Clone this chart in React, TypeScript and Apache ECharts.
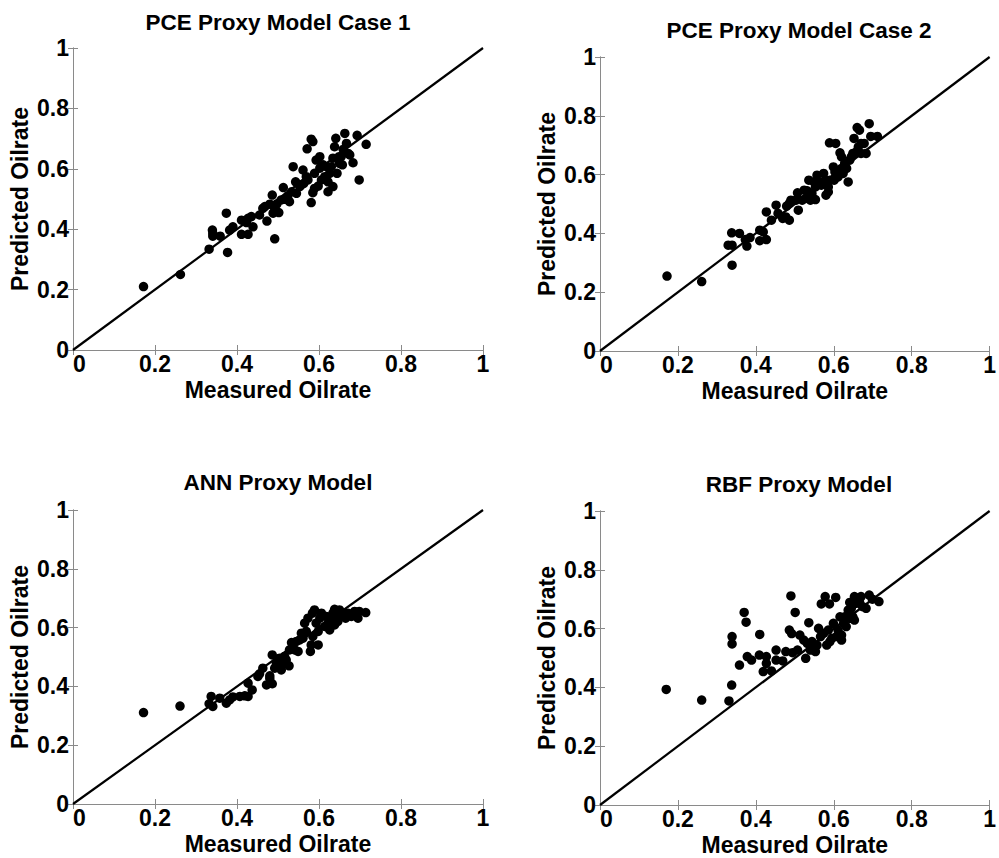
import React, { useEffect, useRef } from "react";
import * as echarts from "echarts";

const titles = ["PCE Proxy Model Case 1", "PCE Proxy Model Case 2", "ANN Proxy Model", "RBF Proxy Model"];
const xAxisName = "Measured Oilrate";
const yAxisName = "Predicted Oilrate";
const axisMin = 0;
const axisMax = 1;
const axisStep = 0.2;
const diagonal: [number, number][] = [[0, 0], [1, 1]];

const pce1Points: [number, number][] = [
  [0.172, 0.21], [0.262, 0.25], [0.332, 0.334], [0.34, 0.397], [0.341, 0.386], [0.341, 0.377],
  [0.374, 0.453], [0.377, 0.323], [0.359, 0.377], [0.382, 0.397], [0.39, 0.408], [0.411, 0.43],
  [0.411, 0.383], [0.427, 0.383], [0.423, 0.422], [0.427, 0.436], [0.439, 0.408], [0.455, 0.447],
  [0.463, 0.469], [0.473, 0.427], [0.48, 0.483], [0.486, 0.513], [0.492, 0.469], [0.492, 0.368],
  [0.502, 0.455], [0.508, 0.497], [0.513, 0.538], [0.528, 0.491], [0.533, 0.524], [0.537, 0.607],
  [0.543, 0.557], [0.553, 0.541], [0.561, 0.596], [0.563, 0.552], [0.569, 0.574], [0.571, 0.666],
  [0.581, 0.698], [0.585, 0.69], [0.581, 0.488], [0.585, 0.521], [0.589, 0.585], [0.593, 0.629],
  [0.598, 0.543], [0.602, 0.602], [0.606, 0.563], [0.61, 0.613], [0.614, 0.574], [0.618, 0.607],
  [0.622, 0.557], [0.626, 0.585], [0.63, 0.607], [0.634, 0.635], [0.638, 0.673], [0.641, 0.701],
  [0.644, 0.585], [0.65, 0.618], [0.654, 0.64], [0.659, 0.664], [0.663, 0.717], [0.667, 0.684],
  [0.671, 0.651], [0.675, 0.646], [0.683, 0.62], [0.693, 0.711], [0.698, 0.563], [0.715, 0.681],
  [0.657, 0.613], [0.649, 0.64], [0.634, 0.541], [0.622, 0.524], [0.602, 0.64], [0.589, 0.535],
  [0.573, 0.563], [0.557, 0.547], [0.545, 0.519], [0.524, 0.51], [0.516, 0.499], [0.497, 0.483],
  [0.468, 0.475], [0.488, 0.453], [0.435, 0.442],
];

const pce2Points: [number, number][] = [
  [0.172, 0.255], [0.261, 0.236], [0.329, 0.36], [0.339, 0.36], [0.338, 0.402], [0.339, 0.292],
  [0.358, 0.4], [0.373, 0.379], [0.377, 0.357], [0.385, 0.386], [0.41, 0.411], [0.41, 0.375],
  [0.419, 0.405], [0.427, 0.379], [0.427, 0.473], [0.44, 0.445], [0.452, 0.496], [0.457, 0.468],
  [0.469, 0.451], [0.477, 0.456], [0.486, 0.445], [0.49, 0.513], [0.486, 0.502], [0.503, 0.513],
  [0.507, 0.538], [0.509, 0.479], [0.519, 0.513], [0.528, 0.519], [0.532, 0.545], [0.536, 0.581],
  [0.54, 0.513], [0.544, 0.536], [0.553, 0.558], [0.557, 0.598], [0.561, 0.575], [0.568, 0.564],
  [0.574, 0.604], [0.578, 0.581], [0.58, 0.53], [0.586, 0.558], [0.589, 0.708], [0.59, 0.581],
  [0.599, 0.626], [0.603, 0.609], [0.605, 0.706], [0.611, 0.592], [0.616, 0.674], [0.62, 0.621],
  [0.624, 0.604], [0.628, 0.638], [0.637, 0.575], [0.641, 0.649], [0.645, 0.66], [0.649, 0.672],
  [0.652, 0.723], [0.66, 0.76], [0.663, 0.694], [0.666, 0.751], [0.67, 0.672], [0.678, 0.706],
  [0.683, 0.672], [0.691, 0.773], [0.695, 0.73], [0.712, 0.73], [0.601, 0.581], [0.633, 0.621],
  [0.62, 0.66], [0.586, 0.541], [0.549, 0.575], [0.524, 0.547], [0.479, 0.493], [0.553, 0.515],
  [0.658, 0.677], [0.67, 0.706],
];

const annPoints: [number, number][] = [
  [0.172, 0.311], [0.261, 0.333], [0.332, 0.341], [0.337, 0.366], [0.341, 0.332], [0.358, 0.36],
  [0.374, 0.343], [0.382, 0.354], [0.39, 0.364], [0.407, 0.366], [0.419, 0.368], [0.427, 0.411],
  [0.427, 0.366], [0.437, 0.388], [0.451, 0.434], [0.455, 0.443], [0.463, 0.462], [0.472, 0.405],
  [0.48, 0.436], [0.486, 0.409], [0.486, 0.507], [0.492, 0.462], [0.496, 0.479], [0.504, 0.496],
  [0.508, 0.47], [0.516, 0.502], [0.52, 0.49], [0.527, 0.47], [0.528, 0.524], [0.533, 0.549],
  [0.541, 0.524], [0.545, 0.553], [0.549, 0.519], [0.553, 0.558], [0.557, 0.581], [0.561, 0.564],
  [0.565, 0.615], [0.569, 0.587], [0.573, 0.632], [0.579, 0.519], [0.581, 0.541], [0.584, 0.649],
  [0.589, 0.66], [0.593, 0.615], [0.598, 0.587], [0.602, 0.632], [0.606, 0.649], [0.614, 0.604],
  [0.622, 0.615], [0.626, 0.592], [0.63, 0.626], [0.634, 0.649], [0.638, 0.609], [0.642, 0.632],
  [0.646, 0.621], [0.65, 0.66], [0.654, 0.638], [0.659, 0.649], [0.665, 0.632], [0.671, 0.649],
  [0.679, 0.638], [0.687, 0.655], [0.695, 0.632], [0.698, 0.655], [0.714, 0.651], [0.585, 0.57],
  [0.598, 0.541], [0.638, 0.662], [0.618, 0.638], [0.508, 0.456], [0.48, 0.427],
];

const rbfPoints: [number, number][] = [
  [0.17, 0.393], [0.261, 0.357], [0.331, 0.354], [0.338, 0.408], [0.339, 0.573], [0.339, 0.548],
  [0.358, 0.476], [0.37, 0.655], [0.375, 0.622], [0.378, 0.505], [0.389, 0.493], [0.409, 0.51],
  [0.41, 0.58], [0.419, 0.454], [0.427, 0.505], [0.427, 0.482], [0.44, 0.456], [0.452, 0.527],
  [0.452, 0.493], [0.469, 0.49], [0.477, 0.522], [0.486, 0.595], [0.49, 0.711], [0.492, 0.583],
  [0.494, 0.518], [0.501, 0.655], [0.507, 0.527], [0.513, 0.578], [0.523, 0.561], [0.528, 0.499],
  [0.532, 0.55], [0.536, 0.62], [0.54, 0.527], [0.544, 0.556], [0.553, 0.522], [0.557, 0.544],
  [0.561, 0.601], [0.566, 0.573], [0.568, 0.684], [0.574, 0.584], [0.578, 0.709], [0.582, 0.544],
  [0.586, 0.595], [0.589, 0.684], [0.595, 0.567], [0.599, 0.618], [0.605, 0.706], [0.607, 0.573],
  [0.611, 0.595], [0.616, 0.64], [0.62, 0.578], [0.625, 0.618], [0.628, 0.64], [0.632, 0.607],
  [0.637, 0.663], [0.641, 0.689], [0.645, 0.669], [0.649, 0.64], [0.653, 0.709], [0.657, 0.686],
  [0.662, 0.703], [0.666, 0.692], [0.674, 0.675], [0.683, 0.669], [0.691, 0.714], [0.699, 0.7],
  [0.716, 0.692], [0.653, 0.629], [0.62, 0.561], [0.59, 0.556], [0.553, 0.539], [0.641, 0.635],
  [0.67, 0.709],
];

const allPoints = [pce1Points, pce2Points, annPoints, rbfPoints];

const grids = [
  { left: 73, top: 48, width: 410, height: 302 },
  { left: 600, top: 57, width: 398, height: 294 },
  { left: 73, top: 510, width: 410, height: 294 },
  { left: 600, top: 511, width: 398, height: 294 },
];
const titleTops = [11, 19, 471, 473];

const FONT = "'Liberation Sans', Arial, sans-serif";
const BOX = "#8a8a8a";

export default function App() {
  const ref = useRef<HTMLDivElement>(null);
  useEffect(() => {
    if (!ref.current) return;
    const chart = echarts.init(ref.current, null, { renderer: "svg" });
    const xAxes: any[] = [];
    const yAxes: any[] = [];
    const series: any[] = [];
    grids.forEach((g, i) => {
      const common = {
        gridIndex: i,
        type: "value",
        min: axisMin,
        max: axisMax,
        interval: axisStep,
        splitLine: { show: false },
        axisLine: { show: true, lineStyle: { color: BOX, width: 1 } },
        axisTick: { show: true, inside: true, length: 5, lineStyle: { color: BOX } },
      };
      xAxes.push({
        ...common,
        position: "bottom",
        name: xAxisName,
        nameLocation: "middle",
        nameGap: 28,
        nameTextStyle: { color: "#000", fontSize: 23, fontWeight: "bold", fontFamily: FONT },
        axisLabel: {
          color: "#000", fontSize: 23, fontWeight: "bold", fontFamily: FONT,
          margin: 6, lineHeight: 16, alignMinLabel: "left",
        },
      });
      xAxes.push({ ...common, position: "top", axisLabel: { show: false } });
      yAxes.push({
        ...common,
        position: "left",
        name: yAxisName,
        nameLocation: "middle",
        nameGap: 42,
        nameTextStyle: { color: "#000", fontSize: 23, fontWeight: "bold", fontFamily: FONT },
        axisLabel: {
          color: "#000", fontSize: 23, fontWeight: "bold", fontFamily: FONT,
          margin: 4, lineHeight: 16,
        },
      });
      yAxes.push({ ...common, position: "right", axisLabel: { show: false } });
      series.push({
        type: "line",
        xAxisIndex: i * 2,
        yAxisIndex: i * 2,
        data: diagonal,
        symbol: "none",
        lineStyle: { color: "#000", width: 2.2 },
        z: 2,
      });
      series.push({
        type: "scatter",
        xAxisIndex: i * 2,
        yAxisIndex: i * 2,
        data: allPoints[i],
        symbol: "circle",
        symbolSize: 9.5,
        itemStyle: { color: "#000", opacity: 1 },
        z: 3,
      });
    });
    chart.setOption({
      animation: false,
      backgroundColor: "#fff",
      title: titles.map((t, i) => ({
        text: t,
        left: grids[i].left + grids[i].width / 2,
        top: titleTops[i],
        textAlign: "center",
        padding: 0,
        textStyle: { color: "#000", fontSize: 22.5, fontWeight: "bold", fontFamily: FONT },
      })),
      grid: grids.map((g) => ({ ...g, containLabel: false })),
      xAxis: xAxes,
      yAxis: yAxes,
      series,
    });
    return () => chart.dispose();
  }, []);
  return (
    <div
      ref={ref}
      style={{ position: "absolute", left: 0, top: 0, width: 999, height: 858 }}
    />
  );
}
